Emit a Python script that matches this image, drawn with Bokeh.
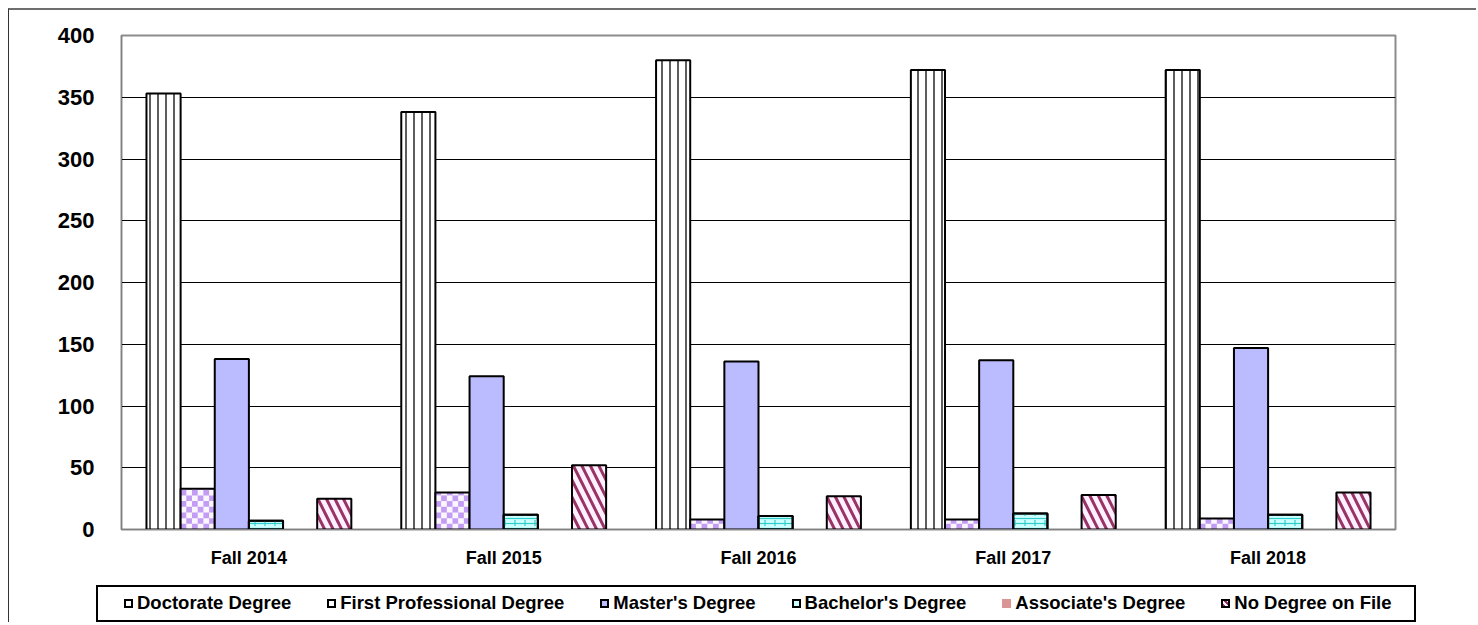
import math
from bokeh.plotting import figure
from bokeh.layouts import column
from bokeh.models import ColumnDataSource, FixedTicker, Range1d, Div
from bokeh.embed import file_html
from bokeh.resources import INLINE

# ---------------- data ----------------
terms = ["Fall 2014", "Fall 2015", "Fall 2016", "Fall 2017", "Fall 2018"]
doctorate = [353, 338, 380, 372, 372]
first_professional = [33, 30, 8, 8, 9]
masters = [138, 124, 136, 137, 147]
bachelors = [7, 12, 11, 13, 12]
associates = [0, 0, 0, 0, 0]
no_degree = [25, 52, 27, 28, 30]
series_names = ["Doctorate Degree", "First Professional Degree", "Master's Degree",
                "Bachelor's Degree", "Associate's Degree", "No Degree on File"]
y_ticks = [0, 50, 100, 150, 200, 250, 300, 350, 400]

# ---------------- geometry derived from data ----------------
centers = [i + 0.5 for i in range(len(terms))]
bw = 0.134
offs = [(k - 2.5) * bw for k in range(6)]


def xs(k):
    return [c + offs[k] for c in centers]


src = ColumnDataSource(dict(
    x0=xs(0), x1=xs(1), x2=xs(2), x3=xs(3), x4=xs(4), x5=xs(5),
    doc=doctorate, fp=first_professional, ms=masters, ba=bachelors,
    aa=associates, nd=no_degree))

# checkerboard cells for the First Professional bars
cell_h = 4.6
ncol = 6
cl, cr, cb, ct = [], [], [], []
for xc, v in zip(xs(1), first_professional):
    left = xc - bw / 2
    for r in range(math.ceil(v / cell_h)):
        y0 = r * cell_h
        y1 = min((r + 1) * cell_h, v)
        for c in range(ncol):
            if (r + c) % 2 == 0:
                cl.append(left + c * bw / ncol)
                cr.append(left + (c + 1) * bw / ncol)
                cb.append(y0)
                ct.append(y1)
checker = ColumnDataSource(dict(left=cl, right=cr, bottom=cb, top=ct))

# ---------------- main figure ----------------
W = 1468
p = figure(x_range=Range1d(0, len(terms)), y_range=Range1d(0, 400),
           width=W, height=560, output_backend="svg", toolbar_location=None,
           min_border_left=112, min_border_right=82, min_border_top=25, min_border_bottom=40)
p.outline_line_color = "#8c8c8c"
p.outline_line_width = 2
p.background_fill_color = "white"
p.border_fill_color = "white"
p.styles = {"border-top": "2px solid #6e6e6e", "border-left": "1px solid #333333"}

p.vbar(x="x0", top="doc", width=bw, source=src,
       fill_color="white", line_color="black", line_width=2,
       hatch_pattern="vertical_line", hatch_color="#333333", hatch_scale=8, hatch_weight=1.6)

p.vbar(x="x1", top="fp", width=bw, source=src, fill_color="#fbf7ff", line_color=None)
p.quad(left="left", right="right", bottom="bottom", top="top", source=checker,
       fill_color="#c39cf3", line_color=None)
p.vbar(x="x1", top="fp", width=bw, source=src, fill_color=None, line_color="black", line_width=2)

p.vbar(x="x2", top="ms", width=bw, source=src,
       fill_color="#bbbbff", line_color="black", line_width=2)

p.vbar(x="x3", top="ba", width=bw, source=src,
       fill_color="#ccffff", line_color="black", line_width=2,
       hatch_pattern="horizontal_line", hatch_color="#33cccc", hatch_scale=5, hatch_weight=1.2)
p.vbar(x="x3", top="ba", width=bw, source=src, fill_color=None, line_color=None,
       hatch_pattern="vertical_dash", hatch_color="#33cccc", hatch_scale=10, hatch_weight=1.2)
p.vbar(x="x3", top="ba", width=bw, source=src, fill_color=None, line_color="black", line_width=2)

p.vbar(x="x4", top="aa", width=bw, source=src, fill_color="#d99694", line_color=None)

p.vbar(x="x5", top="nd", width=bw, source=src,
       fill_color="#fff0ff", line_color="black", line_width=2,
       hatch_pattern="left_diagonal_line", hatch_color="#993366", hatch_scale=17, hatch_weight=3)

p.xgrid.grid_line_color = None
p.ygrid.grid_line_color = "black"
p.ygrid.grid_line_width = 1
p.yaxis.ticker = y_ticks
p.xaxis.ticker = FixedTicker(ticks=centers)
p.xaxis.major_label_overrides = {c: t for c, t in zip(centers, terms)}
p.yaxis.axis_line_color = "#808080"
p.xaxis.axis_line_color = "#808080"
for ax in (p.xaxis, p.yaxis):
    ax.major_tick_line_color = None
    ax.minor_tick_line_color = None
    ax.major_tick_out = 0
    ax.major_tick_in = 0
    ax.minor_tick_out = 0
    ax.major_label_text_font = "Liberation Sans"
    ax.major_label_text_font_style = "bold"
    ax.major_label_text_color = "black"
p.yaxis.major_label_text_font_size = "22px"
p.xaxis.major_label_text_font_size = "18px"
p.yaxis.major_label_standoff = 27
p.xaxis.major_label_standoff = 18

# ---------------- legend strip (HTML) ----------------
swatches = [
    "background:#ffffff;border:2px solid #000;",
    "background:#ffffff;border:2px solid #000;",
    "background:#bbbbff;border:2px solid #000;",
    "background:#ccffff;border:2px solid #000;",
    "background:#d99694;border:none;",
    "background:repeating-linear-gradient(45deg,#993366 0 2px,#fff0ff 2px 4px);border:2px solid #000;",
]
items = ""
for name, sw in zip(series_names, swatches):
    items += ('<span style="display:inline-flex;align-items:center;margin-right:36px;">'
              '<span style="display:inline-block;width:9px;height:9px;box-sizing:border-box;'
              + sw + 'margin-right:4px;"></span>' + name.replace("'", "&#39;") + '</span>')
html = ('<div style="position:relative;width:1468px;height:54px;'
        'font-family:\'Liberation Sans\',Arial,sans-serif;font-weight:bold;font-size:18.5px;color:#000;">'
        '<div style="position:absolute;left:87px;top:17px;width:1320px;height:37px;box-sizing:border-box;'
        'border:2px solid #000;display:flex;align-items:center;padding-left:26px;white-space:nowrap;'
        'background:#fff;">' + items + '</div></div>')
L = Div(text=html, width=W, height=54, margin=0, styles={"border-left": "1px solid #333333"})

layout = column(p, L, spacing=0)
layout.margin = (8, 0, 0, 8)

open("out.html", "w").write(file_html(layout, INLINE))
